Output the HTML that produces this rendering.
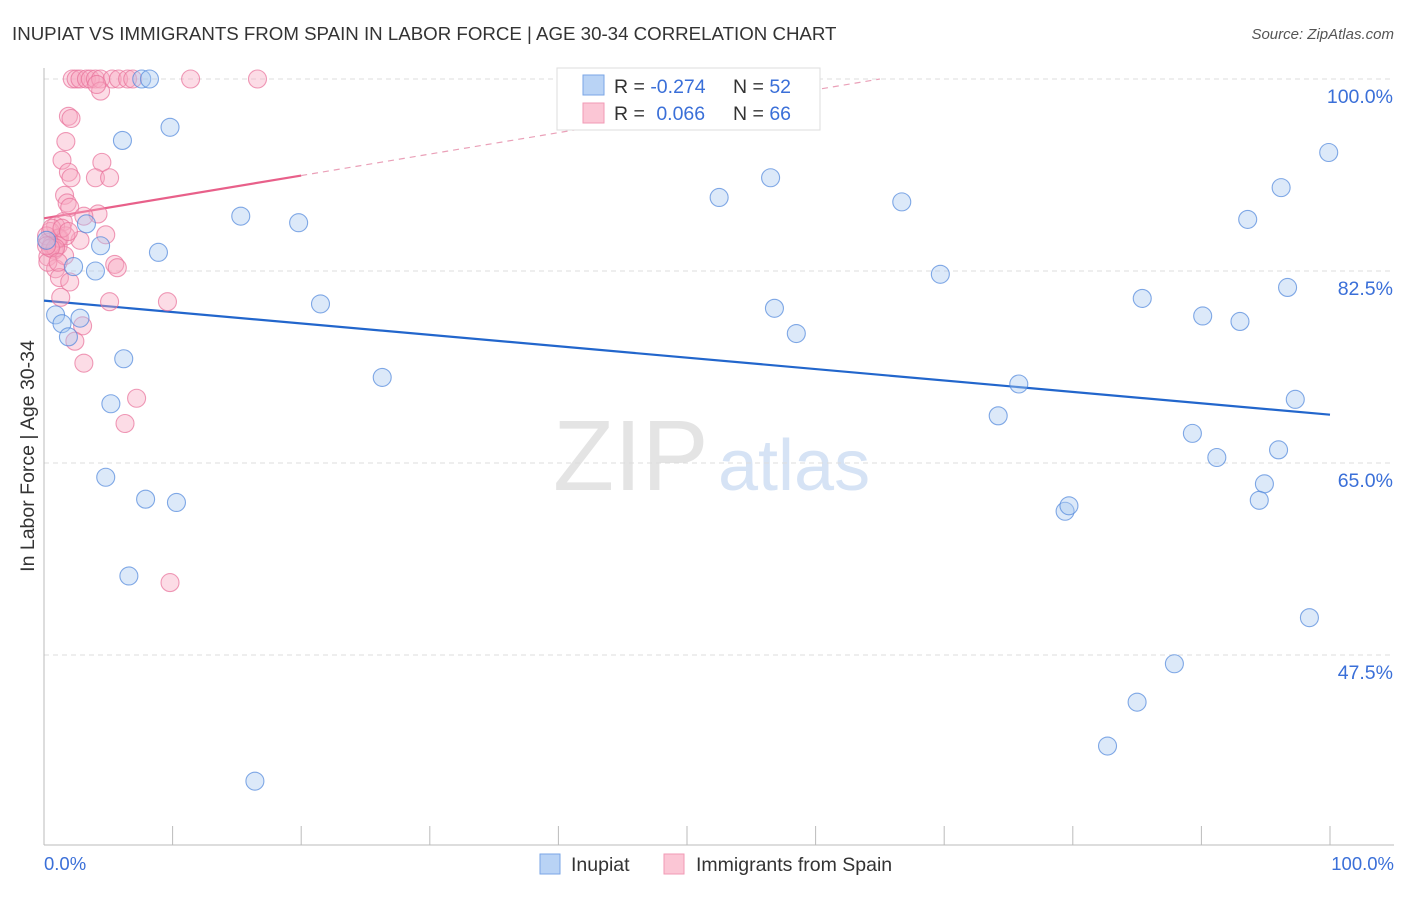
<!DOCTYPE html>
<html><head><meta charset="utf-8"><style>
body{margin:0;background:#fff;font-family:"Liberation Sans",sans-serif;}
svg text{font-family:"Liberation Sans",sans-serif;}
</style></head><body>
<svg id="chart" width="1406" height="892">
<text x="12" y="40" font-size="18.7" fill="#333">INUPIAT VS IMMIGRANTS FROM SPAIN IN LABOR FORCE | AGE 30-34 CORRELATION CHART</text>
<text x="1394" y="39" font-size="15" fill="#555" font-style="italic" text-anchor="end">Source: ZipAtlas.com</text>
<g>
<text x="553" y="490" font-size="100" fill="#e4e4e4" font-family="Liberation Serif">ZIP</text>
<text x="718" y="490" font-size="72" fill="#d6e3f5">atlas</text>
</g>
<g id="grid"></g><g id="axes"></g><g id="trend"></g><g id="pts"></g>
<text transform="translate(34,456) rotate(-90)" font-size="19.5" fill="#333" text-anchor="middle">In Labor Force | Age 30-34</text>
<text x="44" y="870" font-size="18.5" fill="#3a6fd8">0.0%</text>
<text x="1394" y="870" font-size="18.5" fill="#3a6fd8" text-anchor="end">100.0%</text>
<g>
<rect x="557" y="68" width="263" height="62" fill="#fff" stroke="#ddd"/>
<rect x="583" y="75" width="21" height="20" fill="#b9d3f5" stroke="#7aa6e6"/>
<rect x="583" y="103" width="21" height="20" fill="#fbc6d5" stroke="#f19ab5"/>
<text x="614" y="93" font-size="19.5" fill="#333">R = <tspan fill="#3a6fd8">-0.274</tspan></text>
<text x="733" y="93" font-size="19.5" fill="#333">N = <tspan fill="#3a6fd8">52</tspan></text>
<text x="614" y="120" font-size="19.5" fill="#333">R = <tspan fill="#3a6fd8" dx="6">0.066</tspan></text>
<text x="733" y="120" font-size="19.5" fill="#333">N = <tspan fill="#3a6fd8">66</tspan></text>
</g>
<g>
<rect x="540" y="854" width="20" height="20" fill="#b9d3f5" stroke="#7aa6e6"/>
<text x="571" y="871" font-size="19.5" fill="#333">Inupiat</text>
<rect x="664" y="854" width="20" height="20" fill="#fbc6d5" stroke="#f19ab5"/>
<text x="696" y="871" font-size="19.5" fill="#333">Immigrants from Spain</text>
</g>
</svg>
<script>
const yTicks=[100,82.5,65,47.5];
const yTickLabels=["100.0%","82.5%","65.0%","47.5%"];
const xTicks=[0,10,20,30,40,50,60,70,80,90,100];
const blueX=[7.6,8.2,6.1,9.8,15.3,19.8,3.3,4.4,8.9,2.3,4.0,21.5,0.9,2.8,1.4,1.9,6.2,26.3,5.2,4.8,7.9,10.3,6.6,16.4,52.5,56.5,66.7,69.7,56.8,58.5,75.8,74.2,85.4,90.1,93.0,89.3,91.2,79.4,79.7,93.6,96.2,96.7,99.9,97.3,96.0,94.9,94.5,98.4,87.9,85.0,82.7,0.2];
const blueY=[100,100,94.4,95.6,87.5,86.9,86.8,84.8,84.2,82.9,82.5,79.5,78.5,78.2,77.7,76.5,74.5,72.8,70.4,63.7,61.7,61.4,54.7,36.0,89.2,91.0,88.8,82.2,79.1,76.8,72.2,69.3,80.0,78.4,77.9,67.7,65.5,60.6,61.1,87.2,90.1,81.0,93.3,70.8,66.2,63.1,61.6,50.9,46.7,43.2,39.2,85.3];
const pinkX=[2.2,2.5,2.8,3.3,3.6,4.0,4.4,5.3,5.8,6.5,6.9,11.4,16.6,4.4,4.1,1.9,2.1,1.7,1.4,4.5,1.9,2.1,4.0,5.1,1.6,1.8,2.0,4.2,3.1,1.5,4.8,2.8,0.9,0.5,1.2,0.3,0.6,1.1,0.8,0.3,5.5,5.7,0.9,1.2,2.0,1.3,5.1,9.6,3.0,2.4,3.1,7.2,6.3,9.8,0.3,1.1,1.7,0.2,0.6,1.6,0.9,0.5,1.4,0.2,1.9,1.1];
const pinkY=[100,100,100,100,100,100,100,100,100,100,100,100,100,98.9,99.5,96.6,96.4,94.3,92.6,92.4,91.5,91.0,91.0,91.0,89.4,88.7,88.3,87.7,87.5,87.0,85.8,85.3,86.6,86.1,85.5,85.1,84.9,84.8,84.4,83.8,83.1,82.8,82.7,81.9,81.5,80.1,79.7,79.7,77.5,76.1,74.1,70.9,68.6,54.1,83.3,85.5,85.7,85.7,86.4,83.9,84.6,84.6,86.4,84.8,86.1,83.3];
const blueTrend=[79.8,69.4];
const pinkTrend=[87.3,91.2,100];
const pinkTrendX=[0,20,65];
const X=v=>44+v*12.86, Y=v=>79+(100-v)*10.971;
const NS="http://www.w3.org/2000/svg";
function mk(t,a,p){const e=document.createElementNS(NS,t);for(const k in a)e.setAttribute(k,a[k]);p.appendChild(e);return e;}
const grid=document.getElementById('grid'),axes=document.getElementById('axes'),tr=document.getElementById('trend'),pts=document.getElementById('pts');
yTicks.forEach((v,i)=>{
 const l=mk('line',{x1:44,x2:1394,y1:Y(v),y2:Y(v),stroke:'#ddd','stroke-dasharray':'5,4'},grid);
 
 
 const t=mk('text',{x:1393,y:Y(v)+24,'font-size':19.5,fill:'#3a6fd8','text-anchor':'end'},grid);
 t.textContent=yTickLabels[i];
 
 
});
let a=mk('line',{x1:44,x2:44,y1:68,y2:845,stroke:'#bbb'},axes);


a=mk('line',{x1:44,x2:1394,y1:845,y2:845,stroke:'#bbb'},axes);


xTicks.forEach(v=>{
 const t=mk('line',{x1:X(v),x2:X(v),y1:826,y2:845,stroke:'#bbb'},axes);
 
 
});
function dots(xs,ys,fill,stroke,name){
 xs.forEach((x,i)=>{
  const c=mk('circle',{cx:X(x),cy:Y(ys[i]),r:9,fill:fill,'fill-opacity':0.4,stroke:stroke,'stroke-opacity':0.7,'stroke-width':1.1},pts);
  
  
 });
}
dots(pinkX,pinkY,'#f7a8c0','#e8709a','point-spain');
dots(blueX,blueY,'#a8c8f0','#4f86dc','point-inupiat');
let l=mk('line',{x1:X(0),y1:Y(blueTrend[0]),x2:X(100),y2:Y(blueTrend[1]),stroke:'#2266cc','stroke-width':2.2},tr);


l=mk('line',{x1:X(pinkTrendX[0]),y1:Y(pinkTrend[0]),x2:X(pinkTrendX[1]),y2:Y(pinkTrend[1]),stroke:'#e8608a','stroke-width':2.2},tr);


l=mk('line',{x1:X(pinkTrendX[1]),y1:Y(pinkTrend[1]),x2:X(pinkTrendX[2]),y2:Y(pinkTrend[2]),stroke:'#eaa0b8','stroke-width':1.2,'stroke-dasharray':'6,5'},tr);


</script>
</body></html>
